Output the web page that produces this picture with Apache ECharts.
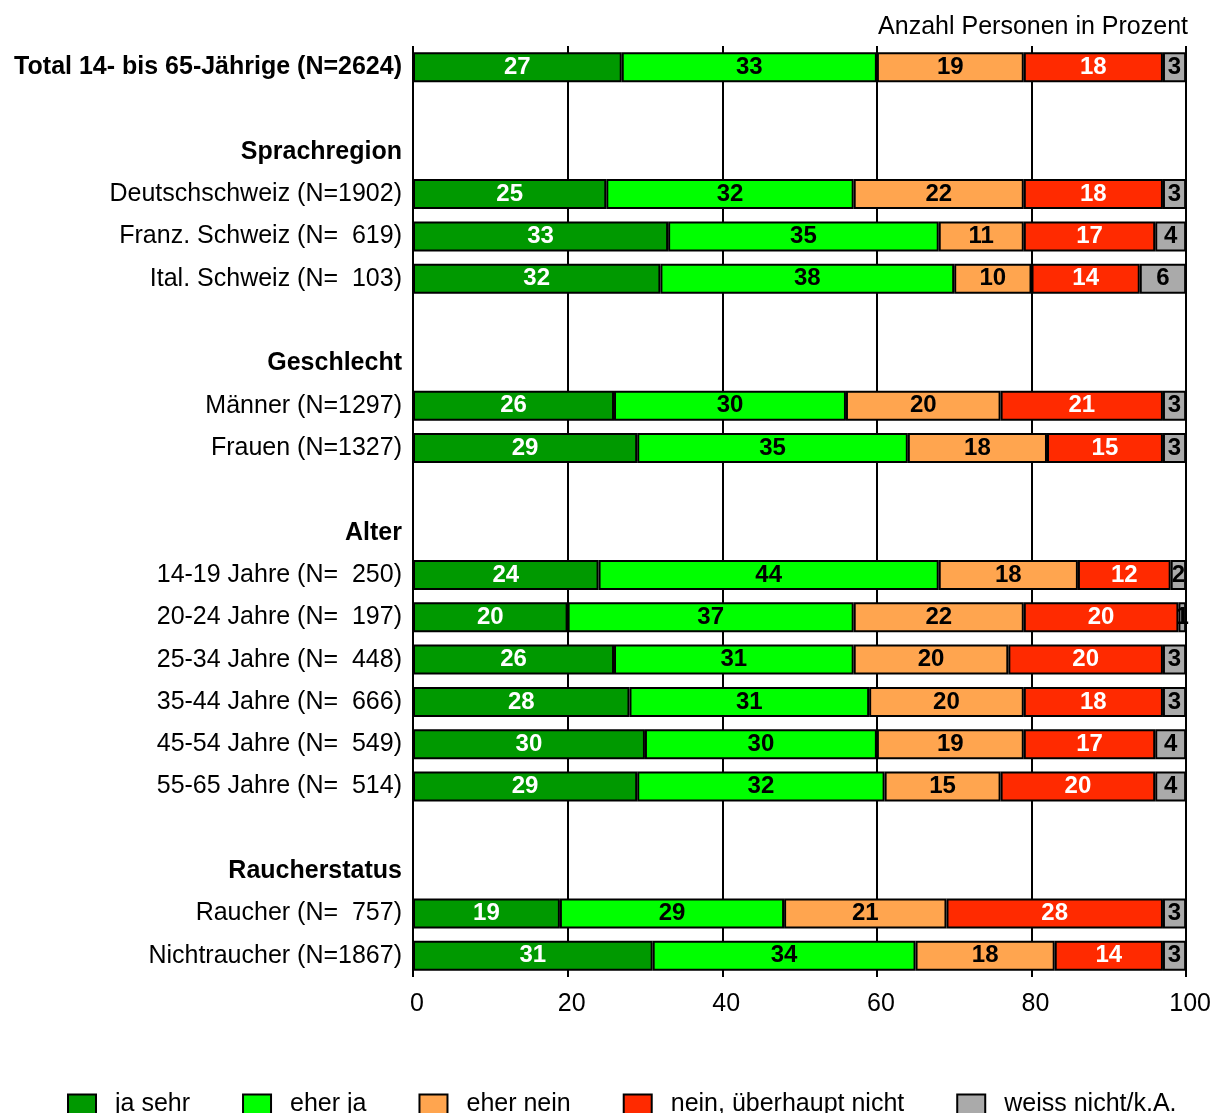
<!DOCTYPE html>
<html>
<head>
<meta charset="utf-8">
<script src="https://cdn.jsdelivr.net/npm/echarts@6/dist/echarts.min.js"></script>
<style>
html,body{margin:0;padding:0;background:#fff;}
#chart{width:1214px;height:1113px;}
</style>
</head>
<body>
<div id="chart"></div>
<script>
const categories = [
  'Total 14- bis 65-Jährige (N=2624)', '',
  'Sprachregion', 'Deutschschweiz (N=1902)', 'Franz. Schweiz (N=  619)', 'Ital. Schweiz (N=  103)', '',
  'Geschlecht', 'Männer (N=1297)', 'Frauen (N=1327)', '',
  'Alter', '14-19 Jahre (N=  250)', '20-24 Jahre (N=  197)', '25-34 Jahre (N=  448)', '35-44 Jahre (N=  666)', '45-54 Jahre (N=  549)', '55-65 Jahre (N=  514)', '',
  'Raucherstatus', 'Raucher (N=  757)', 'Nichtraucher (N=1867)'
];
const boldLabels = ['Total 14- bis 65-Jährige (N=2624)', 'Sprachregion', 'Geschlecht', 'Alter', 'Raucherstatus'];
const seriesNames = ['ja sehr', 'eher ja', 'eher nein', 'nein, überhaupt nicht', 'weiss nicht/k.A.'];
const jaSehr   = [27,'-','-',25,33,32,'-','-',26,29,'-','-',24,20,26,28,30,29,'-','-',19,31];
const eherJa   = [33,'-','-',32,35,38,'-','-',30,35,'-','-',44,37,31,31,30,32,'-','-',29,34];
const eherNein = [19,'-','-',22,11,10,'-','-',20,18,'-','-',18,22,20,20,19,15,'-','-',21,18];
const neinNicht= [18,'-','-',18,17,14,'-','-',21,15,'-','-',12,20,20,18,17,20,'-','-',28,14];
const weissNicht=[3,'-','-',3,4,6,'-','-',3,3,'-','-',2,1,3,3,4,4,'-','-',3,3];
const xTicks = [0,20,40,60,80,100];

const colors = ['#009900','#00ff00','#ffa54f','#ff2a00','#aaaaaa'];
const labelColors = ['#ffffff','#000000','#000000','#ffffff','#000000'];
const allData = [jaSehr, eherJa, eherNein, neinNicht, weissNicht];
const FONT = 'Liberation Sans, Arial, Helvetica, sans-serif';

const chart = echarts.init(document.getElementById('chart'), null, {renderer:'canvas'});
chart.setOption({
  animation:false,
  backgroundColor:'#ffffff',
  title:{
    text:'Anzahl Personen in Prozent',
    right:21, top:10,
    textStyle:{fontFamily:FONT, fontSize:25, fontWeight:'normal', color:'#000'}
  },
  legend:{
    left:62, top:1087,
    itemGap:52, itemWidth:28, itemHeight:20, icon:'rect',
    textStyle:{fontFamily:FONT, fontSize:25, color:'#000', padding:[0,0,0,14]},
    data:seriesNames
  },
  grid:{left:413, right:23, top:46, bottom:136, containLabel:false},
  xAxis:{
    type:'value', min:xTicks[0], max:xTicks[xTicks.length-1], interval:20,
    axisLine:{show:false}, axisTick:{show:false},
    splitLine:{show:true, lineStyle:{color:'#000', width:2}},
    axisLabel:{fontFamily:FONT, fontSize:25, color:'#000', margin:15, padding:[0,0,0,8]}
  },
  yAxis:{
    type:'category', inverse:true, data:categories,
    axisLine:{show:false}, axisTick:{show:false},
    axisLabel:{
      fontFamily:FONT, fontSize:25, color:'#000', margin:11,
      formatter:function(v){ return boldLabels.indexOf(v) >= 0 ? '{b|' + v + '}' : v; },
      rich:{b:{fontFamily:FONT, fontSize:25, fontWeight:'bold', color:'#000'}}
    }
  },
  series: seriesNames.map(function(name,i){
    return {
      name:name, type:'bar', stack:'total', barWidth:30,
      data:allData[i],
      itemStyle:{color:colors[i], borderColor:'#000', borderWidth:2},
      label:{show:true, position:'inside', fontFamily:FONT, fontSize:24, fontWeight:'bold', color:labelColors[i]}
    };
  })
});
</script>
</body>
</html>
